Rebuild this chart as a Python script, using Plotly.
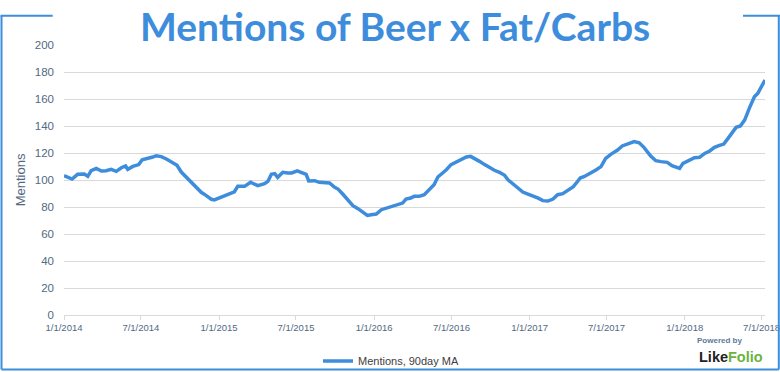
import plotly.graph_objects as go

# ---- data ----
dates = [
    "2014-01-01", "2014-01-10", "2014-01-20", "2014-02-02", "2014-02-18", "2014-02-26",
    "2014-03-06", "2014-03-18", "2014-03-30", "2014-04-10", "2014-04-22", "2014-05-04",
    "2014-05-16", "2014-05-26", "2014-05-31", "2014-06-12", "2014-06-26", "2014-07-04",
    "2014-07-17", "2014-07-29", "2014-08-06", "2014-08-18", "2014-08-30", "2014-09-10",
    "2014-09-24", "2014-10-04", "2014-10-16", "2014-10-27", "2014-11-08", "2014-11-20",
    "2014-12-02", "2014-12-14", "2014-12-21", "2015-01-02", "2015-01-14", "2015-01-26",
    "2015-02-06", "2015-02-14", "2015-03-02", "2015-03-16", "2015-04-02", "2015-04-18",
    "2015-04-26", "2015-05-04", "2015-05-12", "2015-05-19", "2015-05-31", "2015-06-12",
    "2015-06-21", "2015-07-04", "2015-07-17", "2015-07-25", "2015-07-31", "2015-08-14",
    "2015-08-25", "2015-09-06", "2015-09-18", "2015-09-30", "2015-10-08", "2015-10-19",
    "2015-10-31", "2015-11-12", "2015-11-24", "2015-12-05", "2015-12-16", "2015-12-25",
    "2016-01-06", "2016-01-18", "2016-01-29", "2016-02-10", "2016-02-26", "2016-03-08",
    "2016-03-16", "2016-03-27", "2016-04-04", "2016-04-16", "2016-04-28", "2016-05-09",
    "2016-05-21", "2016-05-30", "2016-06-11", "2016-06-19", "2016-06-30", "2016-07-12",
    "2016-07-24", "2016-08-05", "2016-08-15", "2016-08-24", "2016-09-05", "2016-09-17",
    "2016-09-29", "2016-10-10", "2016-10-22", "2016-11-03", "2016-11-11", "2016-11-22",
    "2016-12-04", "2016-12-16", "2016-12-28", "2017-01-09", "2017-01-20", "2017-02-01",
    "2017-02-13", "2017-02-25", "2017-03-08", "2017-03-20", "2017-04-01", "2017-04-13",
    "2017-04-21", "2017-04-30", "2017-05-10", "2017-05-22", "2017-06-06", "2017-06-18",
    "2017-06-29", "2017-07-11", "2017-07-27", "2017-08-07", "2017-08-19", "2017-09-04",
    "2017-09-16", "2017-09-27", "2017-10-13", "2017-10-25", "2017-11-06", "2017-11-21",
    "2017-12-02", "2017-12-20", "2017-12-28", "2018-01-12", "2018-01-24", "2018-02-05",
    "2018-02-17", "2018-03-01", "2018-03-12", "2018-03-24", "2018-04-03", "2018-04-13",
    "2018-04-24", "2018-05-02", "2018-05-12", "2018-05-22", "2018-06-03", "2018-06-14",
    "2018-06-22", "2018-07-02", "2018-07-09",
]
mentions_90d_ma = [
    103.2, 102.0, 100.7, 104.2, 104.4, 102.7,
    106.9, 108.6, 106.7, 106.9, 107.9, 106.4,
    109.1, 110.4, 107.9, 110.1, 111.4, 115.0,
    115.8, 117.0, 118.0, 117.3, 115.6, 113.3,
    110.9, 105.9, 102.2, 99.0, 94.8, 90.9,
    88.4, 85.7, 85.2, 86.7, 88.4, 89.9,
    91.3, 95.3, 95.3, 98.3, 95.8, 97.3,
    99.0, 104.2, 104.7, 102.0, 105.7, 105.2,
    105.2, 106.7, 105.4, 104.2, 99.3, 99.5,
    98.3, 97.8, 97.8, 94.6, 93.3, 89.6,
    85.4, 81.0, 78.8, 76.0, 73.8, 74.3,
    74.8, 78.0, 79.2, 80.5, 82.2, 82.9,
    85.9, 86.6, 87.9, 87.9, 89.1, 92.8,
    96.5, 102.2, 105.2, 107.6, 111.4, 113.3,
    115.6, 117.0, 117.5, 115.6, 113.8, 111.4,
    108.9, 107.2, 105.7, 103.5, 100.2, 97.3,
    94.1, 91.1, 89.6, 88.4, 86.7, 84.7,
    84.4, 85.9, 89.1, 89.9, 92.3, 94.8,
    97.8, 101.5, 102.6, 104.5, 107.4, 109.9,
    116.0, 119.0, 122.2, 125.2, 126.6, 128.4,
    127.6, 124.2, 117.8, 114.3, 113.6, 113.1,
    110.6, 108.6, 112.3, 114.8, 116.5, 116.8,
    119.7, 121.5, 124.2, 125.7, 126.6, 130.8,
    135.8, 139.0, 140.0, 144.4, 153.8, 161.7,
    164.2, 169.6, 174.1,
]
tick_dates = ["2014-01-01", "2014-07-01", "2015-01-01", "2015-07-01", "2016-01-01",
              "2016-07-01", "2017-01-01", "2017-07-01", "2018-01-01", "2018-07-01"]
tick_labels = ["1/1/2014", "7/1/2014", "1/1/2015", "7/1/2015", "1/1/2016",
               "7/1/2016", "1/1/2017", "7/1/2017", "1/1/2018", "7/1/2018"]
series_name = "Mentions, 90day MA"
chart_title = "Mentions of Beer x Fat/Carbs"

BLUE = "#3d8ddc"
SLATE = "#52697f"
GRID = "#d9d9d9"

fig = go.Figure()
fig.add_trace(go.Scatter(
    x=dates, y=mentions_90d_ma, mode="lines", name=series_name,
    line=dict(color=BLUE, width=3.5),
))

# geometry helpers (plot area: l=64, r=15, t=45, b=57 on 780x372)
L, R, T, B, W, H = 64, 15, 45, 57, 780, 372
PW, PH = W - L - R, H - T - B
def px(x):
    return (x - L) / PW
def py(y):
    return (H - B - y) / PH

frame = dict(type="line", xref="paper", yref="paper", line=dict(color=BLUE, width=2))
shapes = [
    dict(frame, x0=px(1.5), x1=px(1.5), y0=py(15.7), y1=py(369.5)),
    dict(frame, x0=px(778.8), x1=px(778.8), y0=py(15.7), y1=py(369.5)),
    dict(frame, x0=px(1.5), x1=px(778.8), y0=py(369.5), y1=py(369.5)),
    dict(frame, x0=px(0.5), x1=px(52.7), y0=py(15.7), y1=py(15.7)),
    dict(frame, x0=px(743), x1=px(780), y0=py(15.7), y1=py(15.7)),
]

annotations = [
    dict(text="<b>" + chart_title + "</b>", xref="paper", yref="paper",
         x=px(395), y=py(1), xanchor="center", yanchor="top", showarrow=False,
         font=dict(family="Lato", size=39, color=BLUE)),
    dict(text="<b>Powered by</b>", xref="paper", yref="paper",
         x=px(719.5), y=py(340), xanchor="center", yanchor="middle", showarrow=False,
         font=dict(family="Liberation Sans", size=8, color="#5b7a99")),
    dict(text="<b><span style='color:#222222'>Like</span><span style='color:#6ab43e'>Folio</span></b>",
         xref="paper", yref="paper",
         x=px(730.5), y=py(357), xanchor="center", yanchor="middle", showarrow=False,
         font=dict(family="Liberation Sans", size=14.5, color="#222222")),
]

fig.update_layout(
    width=W, height=H,
    margin=dict(l=L, r=R, t=T, b=B, autoexpand=False),
    paper_bgcolor="white", plot_bgcolor="white",
    showlegend=True,
    legend=dict(orientation="h", x=px(391), xanchor="center", y=py(361), yanchor="middle",
                font=dict(family="Liberation Sans", size=11, color="#404040"),
                bgcolor="rgba(0,0,0,0)"),
    shapes=shapes,
    annotations=annotations,
    xaxis=dict(
        type="date", range=["2014-01-01", "2018-07-09"],
        tickvals=tick_dates, ticktext=tick_labels,
        showgrid=False, showline=True, linecolor=GRID, linewidth=1,
        ticks="outside", ticklen=4, tickcolor=GRID,
        ticklabeloverflow="allow",
        tickfont=dict(family="Liberation Sans", size=9.5, color=SLATE),
        zeroline=False,
    ),
    yaxis=dict(
        range=[0, 200], dtick=20, tick0=0,
        showgrid=True, gridcolor=GRID, gridwidth=1,
        zeroline=False, showline=False, ticks="",
        ticklabelstandoff=9,
        tickfont=dict(family="Liberation Sans", size=11.5, color=SLATE),
        title=dict(text="Mentions", standoff=6,
                   font=dict(family="Liberation Sans", size=13, color=SLATE)),
    ),
)

fig.write_html("out.html", config={"displayModeBar": False},
               post_script="document.body.style.margin='0';document.body.style.overflow='hidden';")
